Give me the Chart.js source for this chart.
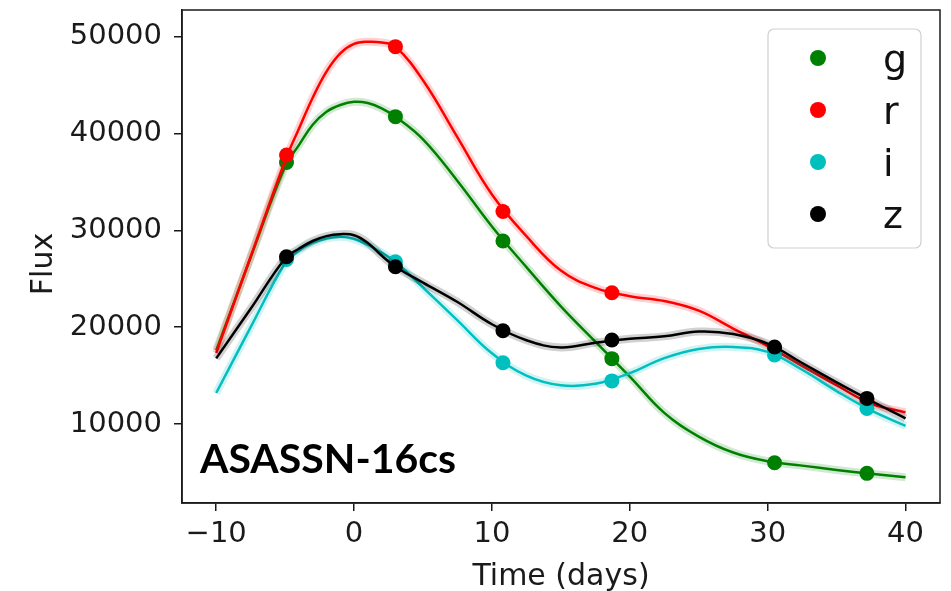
<!DOCTYPE html>
<html>
<head>
<meta charset="utf-8">
<script src="https://cdn.jsdelivr.net/npm/chart.js@4"></script>
<style>
  html, body { margin: 0; padding: 0; background: #fff; }
  canvas { display: block; }
</style>
</head>
<body>
<canvas id="lc" width="951" height="591"></canvas>
<script>
// light curve of ASASSN-16cs
const bands = ['g', 'r', 'i', 'z'];
const bandColors = ['#008000', '#ff0000', '#00bfbf', '#000000'];
const bandGlow = ['rgba(0,128,0,0.18)', 'rgba(255,0,0,0.18)', 'rgba(0,191,191,0.18)', 'rgba(0,0,0,0.18)'];

// observed epochs (days from peak)
const obsDays = [-4.9, 3.0, 10.8, 18.7, 30.5, 37.2];
const gObs = [37000, 41740, 28900, 16750, 6000, 4900];
const rObs = [37780, 48970, 31950, 23550, 17800, 12300];
const iObs = [27000, 26760, 16320, 14450, 17120, 11610];
const zObs = [27270, 26240, 19630, 18670, 17950, 12640];

// fitted curves
const curveDays = [-10, -7.5, -5, -4, -3, -2, -1, 0, 1, 2, 3, 5, 7.5, 10, 12.5, 15, 17.5, 20, 22.5, 25, 27.5, 30, 32.5, 35, 37.5, 40];
const gFit = [17600, 27200, 36600, 38800, 40900, 42250, 42950, 43280, 43150, 42600, 41740, 39400, 35100, 30400, 26200, 22150, 18500, 14900, 11150, 8700, 7050, 6150, 5700, 5250, 4850, 4500];
const rFit = [17330, 27300, 37200, 40500, 43700, 46400, 48280, 49250, 49480, 49400, 48970, 45500, 39600, 33700, 29400, 25850, 24050, 23200, 22700, 21700, 19850, 18050, 16000, 14000, 12100, 11200];
const iFit = [13200, 20000, 26600, 27900, 28700, 29150, 29340, 29100, 28500, 27700, 26760, 24100, 20700, 17300, 15000, 14000, 14150, 15250, 16800, 17750, 17950, 17450, 15600, 13400, 11400, 9800];
const zFit = [16780, 21900, 27100, 28100, 28900, 29400, 29600, 29500, 28700, 27400, 26240, 24600, 22600, 20300, 18650, 17900, 18400, 18800, 19050, 19550, 19300, 18300, 16300, 14300, 12400, 10580];

const xTicks = [-10, 0, 10, 20, 30, 40];
const yTicks = [10000, 20000, 30000, 40000, 50000];

const obs = [gObs, rObs, iObs, zObs];
const fits = [gFit, rFit, iFit, zFit];

const pts = (xs, ys) => xs.map((x, k) => ({ x: x, y: ys[k] }));

const datasets = [];
let order = 100;
bands.forEach((b, n) => {
  datasets.push({
    label: b + ' band',
    data: pts(curveDays, fits[n]),
    showLine: true,
    borderColor: bandGlow[n],
    borderWidth: 8,
    pointRadius: 0,
    tension: 0.4,
    order: order--
  });
  datasets.push({
    label: b + ' fit',
    data: pts(curveDays, fits[n]),
    showLine: true,
    borderColor: bandColors[n],
    borderWidth: 2.5,
    pointRadius: 0,
    tension: 0.4,
    order: order--
  });
  datasets.push({
    label: b,
    data: pts(obsDays, obs[n]),
    showLine: false,
    backgroundColor: bandColors[n],
    borderWidth: 0,
    pointRadius: 7.5,
    order: order--
  });
});

const textFont = '"DejaVu Sans", sans-serif';

const decor = {
  id: 'decor',
  afterDatasetsDraw(chart) {
    const ctx = chart.ctx;
    const a = chart.chartArea;
    ctx.save();
    // frame
    ctx.strokeStyle = '#1a1a1a';
    ctx.lineWidth = 1.5;
    ctx.strokeRect(a.left, a.top, a.right - a.left, a.bottom - a.top);

    // legend box
    const lx = 768, ly = 29, lw = 153, lh = 219, rad = 6;
    ctx.beginPath();
    ctx.roundRect(lx, ly, lw, lh, rad);
    ctx.fillStyle = 'rgba(255,255,255,0.8)';
    ctx.fill();
    ctx.strokeStyle = '#d0d0d0';
    ctx.lineWidth = 1.2;
    ctx.stroke();
    ctx.font = '38px ' + textFont;
    ctx.textAlign = 'left';
    ctx.textBaseline = 'alphabetic';
    bands.forEach((b, n) => {
      const y = 58 + n * 52;
      ctx.beginPath();
      ctx.arc(818, y, 8, 0, Math.PI * 2);
      ctx.fillStyle = bandColors[n];
      ctx.fill();
      ctx.fillStyle = '#111';
      ctx.fillText(b, 883, y + 14);
    });

    // object name
    ctx.font = 'bold 41px Lato, "Open Sans", sans-serif';
    ctx.fillStyle = '#000';
    ctx.fillText('ASASSN-16cs', 200, 473);

    // axis titles
    ctx.font = '30px ' + textFont;
    ctx.fillStyle = '#1a1a1a';
    ctx.textAlign = 'center';
    ctx.fillText('Time (days)', (a.left + a.right) / 2, 585);
    ctx.translate(52, 264);
    ctx.rotate(-Math.PI / 2);
    ctx.fillText('Flux', 0, 0);
    ctx.restore();
  }
};

new Chart(document.getElementById('lc').getContext('2d'), {
  type: 'scatter',
  data: { datasets: datasets },
  options: {
    responsive: false,
    animation: false,
    layout: { padding: { top: 10, right: 11, left: 0, bottom: 0 } },
    plugins: {
      legend: { display: false },
      tooltip: { enabled: false }
    },
    scales: {
      x: {
        type: 'linear',
        min: -12.48,
        max: 42.5,
        afterFit: s => { s.height = 88; s.paddingLeft = 0; s.paddingRight = 0; },
        afterBuildTicks: s => { s.ticks = xTicks.map(v => ({ value: v })); },
        grid: { drawOnChartArea: false, drawTicks: true, tickLength: 8, color: '#1a1a1a', lineWidth: 1.5 },
        border: { display: true, color: '#1a1a1a', width: 1.5 },
        ticks: {
          font: { family: 'DejaVu Sans', size: 29 },
          color: '#1a1a1a',
          padding: 6,
          maxRotation: 0,
          callback: v => (v < 0 ? '\u2212' + Math.abs(v) : String(v))
        }
      },
      y: {
        type: 'linear',
        min: 1839,
        max: 52758,
        afterFit: s => { s.width = 182; s.paddingTop = 0; s.paddingBottom = 0; },
        afterBuildTicks: s => { s.ticks = yTicks.map(v => ({ value: v })); },
        grid: { drawOnChartArea: false, drawTicks: true, tickLength: 8, color: '#1a1a1a', lineWidth: 1.5 },
        border: { display: true, color: '#1a1a1a', width: 1.5 },
        ticks: {
          font: { family: 'DejaVu Sans', size: 29 },
          color: '#1a1a1a',
          padding: 12,
          callback: v => String(v)
        }
      }
    }
  },
  plugins: [decor]
});
</script>
</body>
</html>
